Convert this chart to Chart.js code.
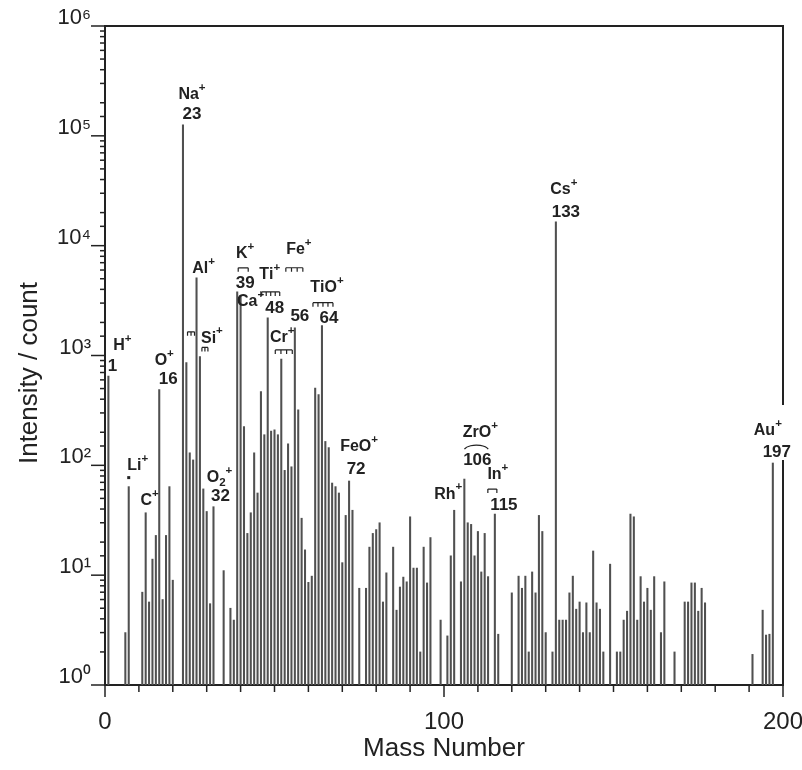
<!DOCTYPE html>
<html>
<head>
<meta charset="utf-8">
<script src="https://cdn.jsdelivr.net/npm/chart.js@4.4.0/dist/chart.umd.min.js"></script>
<style>
  html, body { margin: 0; background: #fff; }
  #wrap { width: 802px; height: 770px; }
</style>
</head>
<body>
<div id="wrap"><canvas id="massSpectrum" width="802" height="770"></canvas></div>
<script>
// mass number of each peak and its intensity (counts)
const masses = [
  1, 6, 7, 11, 12, 13, 14, 15, 16, 17,
  18, 19, 20, 23, 24, 25, 26, 27, 28, 29,
  30, 31, 32, 35, 37, 38, 39, 40, 41, 42,
  43, 44, 45, 46, 47, 48, 49, 50, 51, 52,
  53, 54, 55, 56, 57, 58, 59, 60, 61, 62,
  63, 64, 65, 66, 67, 68, 69, 70, 71, 72,
  73, 75, 77, 78, 79, 80, 81, 82, 83, 85,
  86, 87, 88, 89, 90, 91, 92, 93, 94, 95,
  96, 99, 101, 102, 103, 105, 106, 107, 108, 109,
  110, 111, 112, 113, 115, 116, 120, 122, 123, 124,
  125, 126, 127, 128, 129, 130, 132, 133, 134, 135,
  136, 137, 138, 139, 140, 141, 142, 143, 144, 145,
  146, 147, 149, 151, 152, 153, 154, 155, 156, 157,
  158, 159, 160, 161, 162, 164, 165, 168, 171, 172,
  173, 174, 175, 176, 177, 191, 194, 195, 196, 197
];
const counts = [
  650, 3, 64, 7, 37, 5.7, 14, 23, 490, 6,
  23, 64, 9, 126000, 860, 130, 112, 5100, 980, 61,
  38, 5.5, 42, 11, 5, 3.9, 3800, 3500, 225, 24,
  37, 130, 56, 470, 190, 2200, 205, 210, 190, 930,
  90, 157, 97, 1790, 320, 33, 17, 8.6, 9.8, 505,
  440, 1870, 165, 145, 69, 64, 56, 13, 35, 72,
  39, 7.6, 7.6, 18, 24, 26, 30, 5.7, 10.5, 18,
  4.8, 7.8, 9.6, 8.7, 34, 11.6, 11.6, 2, 18, 8.5,
  22, 3.9, 2.8, 15, 39, 8.7, 75, 30, 29, 15,
  25, 10.7, 24, 9.7, 36, 2.9, 6.9, 9.8, 7.6, 9.8,
  2, 10.7, 6.9, 35, 25, 3, 2, 16500, 3.9, 3.9,
  3.9, 6.9, 9.8, 4.9, 5.7, 3, 5.6, 3, 16.6, 5.6,
  4.9, 2, 12.6, 2, 2, 3.9, 4.7, 36, 34, 3.9,
  9.7, 5.7, 7.6, 4.8, 9.7, 3, 8.7, 2, 5.7, 5.7,
  8.5, 8.5, 4.7, 7.6, 5.6, 1.9, 4.8, 2.85, 2.9, 105
];

// peak annotations
const labelMasses = [1, 7, 12, 16, 23, 27, 28, 32, 39, 40, 48, 52, 56, 64, 72, 103, 106, 115, 133, 197];
const labelIons = ["H+", "Li+", "C+", "O+", "Na+", "Al+", "Si+", "O2+", "K+", "Ca+", "Ti+", "Cr+", "Fe+", "TiO+", "FeO+", "Rh+", "ZrO+", "In+", "Cs+", "Au+"];
const labelNumbers = ["1", "", "", "16", "23", "", "", "32", "39", "", "48", "", "56", "64", "72", "", "106", "115", "133", "197"];

const xTickLabels = [0, 100, 200];
const yDecades = [0, 1, 2, 3, 4, 5, 6];

const SUP = ["\u2070", "\u00b9", "\u00b2", "\u00b3", "\u2074", "\u2075", "\u2076"];
const FONT = '"Liberation Sans", Arial, sans-serif';
const INK = "#222";

// offsets (px) of each label relative to the top of its peak
const placement = {
  1:   { ion: [14, -30], num: [4, -10] },
  7:   { ion: [9, -21], dot: [0, -9] },
  12:  { ion: [4, -12] },
  16:  { ion: [5, -29], num: [9, -10] },
  23:  { ion: [9, -30], num: [9, -10] },
  27:  { ion: [7, -9], comb: [-9, 54, 7, 3] },
  28:  { ion: [12, -18], comb: [2, -9, 6, 3] },
  32:  { ion: [6, -29], num: [7, -10] },
  39:  { ion: [8, -38], comb: [1, -24, 10, 2], num: [8, -9] },
  40:  { ion: [10, 6] },
  48:  { ion: [2, -43], comb: [-6, -26, 18, 5], num: [7, -10] },
  52:  { ion: [1, -21], comb: [-6, -9, 17, 4] },
  56:  { ion: [4, -78], comb: [-9, -60, 17, 4], num: [5, -11] },
  64:  { ion: [5, -38], comb: [-9, -23, 20, 5], num: [7, -7] },
  72:  { ion: [10, -34], num: [7, -12] },
  103: { ion: [-6, -16] },
  106: { ion: [16, -46], arc: [12, -34, 25], num: [13, -19] },
  115: { ion: [3, -39], comb: [-7, -25, 9, 2], num: [9, -9] },
  133: { ion: [8, -32], num: [10, -9] },
  197: { ion: [-5, -32], num: [4, -11], blank: true }
};

function isDecade(v) {
  const e = Math.log10(v);
  return Math.abs(e - Math.round(e)) < 1e-9;
}

// draws "Na+", "O2+" etc. with raised + and lowered digits, centred on cx
function drawIon(ctx, text, cx, cy, size) {
  const parts = [];
  for (const ch of text) {
    if (ch === "+") parts.push({ t: ch, dy: -size * 0.45, s: size * 0.72 });
    else if (/[0-9]/.test(ch)) parts.push({ t: ch, dy: size * 0.3, s: size * 0.72 });
    else parts.push({ t: ch, dy: 0, s: size });
  }
  let w = 0;
  parts.forEach(p => { ctx.font = `bold ${p.s}px ${FONT}`; p.w = ctx.measureText(p.t).width; w += p.w; });
  let x = cx - w / 2;
  ctx.textAlign = "left";
  ctx.textBaseline = "middle";
  parts.forEach(p => {
    ctx.font = `bold ${p.s}px ${FONT}`;
    ctx.fillText(p.t, x, cy + p.dy);
    x += p.w;
  });
  return w;
}

const frameAndLabels = {
  id: "frameAndLabels",
  afterDraw(chart) {
    const { ctx, chartArea: a, scales: { x, y } } = chart;
    ctx.save();
    ctx.strokeStyle = INK;
    ctx.fillStyle = INK;

    // top and right frame
    ctx.lineWidth = 2;
    ctx.beginPath();
    ctx.moveTo(a.left, a.top);
    ctx.lineTo(a.right, a.top);
    ctx.lineTo(a.right, a.bottom);
    ctx.stroke();

    // tick marks
    ctx.lineWidth = 1.5;
    x.ticks.forEach(t => {
      const px = x.getPixelForValue(t.value);
      const len = t.value % 100 === 0 ? 12 : 7;
      ctx.beginPath();
      ctx.moveTo(px, a.bottom);
      ctx.lineTo(px, a.bottom + len);
      ctx.stroke();
    });
    y.ticks.forEach(t => {
      const py = y.getPixelForValue(t.value);
      const len = isDecade(t.value) ? 14 : 5;
      ctx.beginPath();
      ctx.moveTo(a.left - len, py);
      ctx.lineTo(a.left, py);
      ctx.stroke();
    });

    // y axis title
    ctx.save();
    ctx.translate(30, 373);
    ctx.rotate(-Math.PI / 2);
    ctx.font = `26px ${FONT}`;
    ctx.textAlign = "center";
    ctx.textBaseline = "middle";
    ctx.fillText("Intensity / count", 0, 0);
    ctx.restore();

    // peak labels
    labelMasses.forEach((m, i) => {
      const p = placement[m];
      const bx = x.getPixelForValue(m);
      const by = y.getPixelForValue(counts[masses.indexOf(m)]);
      if (p.blank) {
        ctx.fillStyle = "#fff";
        ctx.fillRect(bx - 22, by - 58, 40, 55);
        ctx.fillStyle = INK;
      }
      drawIon(ctx, labelIons[i], bx + p.ion[0], by + p.ion[1], 16);
      if (labelNumbers[i]) {
        ctx.font = `bold 17px ${FONT}`;
        ctx.textAlign = "center";
        ctx.textBaseline = "middle";
        ctx.fillText(labelNumbers[i], bx + p.num[0], by + p.num[1]);
      }
      if (p.dot) ctx.fillRect(bx + p.dot[0] - 1.5, by + p.dot[1] - 1.5, 3, 3);
      ctx.lineWidth = 1.2;
      if (p.comb) {
        const [dx, dy, w, legs] = p.comb;
        const x0 = bx + dx, y0 = by + dy;
        ctx.beginPath();
        ctx.moveTo(x0, y0);
        ctx.lineTo(x0 + w, y0);
        for (let k = 0; k < legs; k++) {
          const lx = x0 + (legs > 1 ? (w * k) / (legs - 1) : 0);
          ctx.moveTo(lx, y0);
          ctx.lineTo(lx, y0 + 4);
        }
        ctx.stroke();
      }
      if (p.arc) {
        const [dx, dy, w] = p.arc;
        ctx.beginPath();
        ctx.ellipse(bx + dx, by + dy + 6, w / 2, 6, 0, Math.PI * 1.1, Math.PI * 1.9);
        ctx.stroke();
      }
    });
    ctx.restore();
  }
};

new Chart(document.getElementById("massSpectrum"), {
  type: "bar",
  data: {
    datasets: [{
      data: masses.map((m, i) => ({ x: m, y: counts[i] })),
      backgroundColor: "#505050",
      barThickness: 1.4
    }]
  },
  options: {
    responsive: false,
    animation: false,
    layout: { padding: { top: 26, right: 19, left: 0, bottom: 0 } },
    plugins: { legend: { display: false }, tooltip: { enabled: false } },
    scales: {
      x: {
        type: "linear",
        min: 0,
        max: 200,
        offset: false,
        grid: { drawOnChartArea: false, drawTicks: false },
        border: { color: INK, width: 2 },
        ticks: {
          stepSize: 10,
          autoSkip: false,
          maxRotation: 0,
          padding: 23,
          color: INK,
          font: { family: FONT, size: 24 },
          callback: v => (xTickLabels.includes(v) ? String(v) : "")
        },
        title: {
          display: true,
          text: "Mass Number",
          color: INK,
          font: { family: FONT, size: 26 },
          padding: { top: 0, bottom: 6 }
        },
        afterFit: s => {
          s.height = 85;
          s.paddingLeft = 0;
          s.paddingRight = 0;
        }
      },
      y: {
        type: "logarithmic",
        min: 1,
        max: 1e6,
        grid: { drawOnChartArea: false, drawTicks: false },
        border: { color: INK, width: 2 },
        ticks: {
          autoSkip: false,
          padding: 14,
          labelOffset: -8,
          color: INK,
          font: { family: FONT, size: 22 },
          callback: v => {
            if (!isDecade(v)) return "";
            const e = Math.round(Math.log10(v));
            return yDecades.includes(e) ? "10" + SUP[e] : "";
          }
        },
        title: { display: false },
        afterFit: s => {
          s.width = 105;
          s.paddingTop = 0;
          s.paddingBottom = 0;
        }
      }
    }
  },
  plugins: [frameAndLabels]
});
</script>
</body>
</html>
